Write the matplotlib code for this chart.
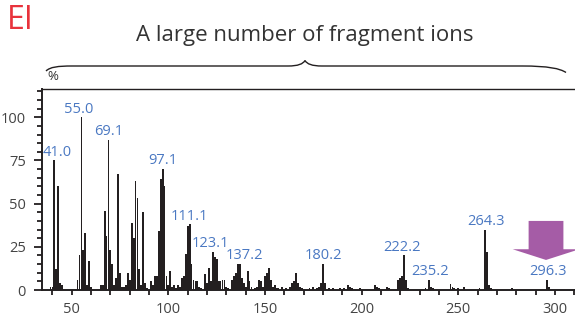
import matplotlib
matplotlib.use("Agg")
import matplotlib.pyplot as plt
from matplotlib.path import Path
from matplotlib.patches import PathPatch, FancyArrow
from matplotlib.ticker import MultipleLocator

# EI mass spectrum (m/z, relative intensity %)
mz = [39, 40, 41, 42, 43, 44, 45, 53, 54, 55, 56, 57, 58, 59, 60,
      65, 66, 67, 68, 69, 70, 71, 72, 73, 74, 75, 76, 77, 78, 79, 80,
      81, 82, 83, 84, 85, 86, 87, 88, 89, 91, 92, 93, 94, 95, 96, 97,
      98, 99, 100, 101, 102, 103, 104, 105, 106, 107, 108, 109, 110, 111,
      112, 113, 114, 115, 116, 117, 119, 120, 121, 122, 123, 124, 125, 126,
      127, 128, 129, 130, 131, 133, 134, 135, 136, 137, 138, 139, 140, 141,
      142, 143, 145, 146, 147, 148, 149, 150, 151, 152, 153, 154, 155, 156,
      157, 159, 161, 163, 164, 165, 166, 167, 168, 169, 173, 175, 177, 178,
      179, 180, 181, 183, 185, 189, 191, 193, 194, 195, 199, 207, 208, 209,
      213, 214, 219, 220, 221, 222, 223, 224, 233, 235, 236, 237, 246, 247,
      248, 250, 253, 261, 264, 265, 266, 267, 278, 296, 297]
intensity = [2, 1.5, 75, 12, 60, 4, 3, 6, 20, 100, 23, 33, 3, 17, 2,
             3, 3, 46, 31, 87, 23, 15, 3, 7, 67, 10, 2, 2, 3, 10, 6,
             39, 30, 63, 53, 12, 3, 45, 4, 1, 5, 3, 8, 8, 34, 64, 70,
             60, 8, 3, 11, 2, 3, 1, 3, 2, 7, 8, 21, 37, 38,
             15, 6, 5, 5, 2, 1, 9, 4, 13, 5, 22, 19, 18, 5,
             5, 6, 6, 2, 1, 6, 8, 10, 15, 15, 7, 4, 2, 11,
             5, 2, 1, 2, 6, 5, 2, 8, 10, 13, 6, 2, 3, 1,
             1, 2, 1, 2, 4, 5, 10, 4, 2, 1, 1, 1.5, 1, 2,
             4, 15, 4, 1, 1, 1, 1, 3, 2, 1, 1, 3, 2, 1,
             1.5, 1, 6, 7, 8, 20, 6, 1, 1, 6, 2, 1, 3.5, 2,
             1, 1, 2, 1, 35, 22, 3, 1, 1, 6, 2]

peak_labels = ["41.0", "55.0", "69.1", "97.1", "111.1", "123.1", "137.2",
               "180.2", "222.2", "235.2", "264.3", "296.3"]
label_dx = [2, -2, 0, 0, 0, -2, 3, 0, -2, 0, 0, 0]

fig = plt.figure(figsize=(5.75, 3.15), dpi=100)
plt.rcParams['font.family'] = ['Open Sans', 'DejaVu Sans']
ax = fig.add_axes([42 / 575, 25 / 315, 533 / 575, 201 / 315])

ax.bar(mz, intensity, width=0.95, color='#231f20', linewidth=0)

ax.set_xlim(34.6, 310.4)
ax.set_ylim(0, 116.4)
ax.xaxis.set_major_locator(MultipleLocator(50))
ax.xaxis.set_minor_locator(MultipleLocator(10))
ax.yaxis.set_major_locator(MultipleLocator(25))
ax.yaxis.set_minor_locator(MultipleLocator(5))
ax.tick_params(axis='both', which='both', direction='out', width=1.3,
               color='#231f20', labelsize=10.5, labelcolor='#444444')
ax.tick_params(axis='x', which='both', length=3.8, pad=4.5)
ax.tick_params(axis='y', which='major', length=6, pad=5.5)
ax.tick_params(axis='y', which='minor', length=3.6)
ax.spines['right'].set_visible(False)
for s in ['left', 'bottom']:
    ax.spines[s].set_linewidth(1.4)
    ax.spines[s].set_color('#231f20')
ax.spines['top'].set_linewidth(1.0)
ax.spines['top'].set_color('#231f20')

# peak annotations
for lab, dx in zip(peak_labels, label_dx):
    m = round(float(lab))
    h = max(i for x, i in zip(mz, intensity) if abs(x - m) <= 1 and (x == m or lab == "111.1"))
    ax.annotate(lab, (float(lab), h), xytext=(dx, 0.5), textcoords='offset points',
                ha='center', va='bottom', fontsize=10.5, color='#4a78c2')

# molecular ion arrow
arr = FancyArrow(295.4, 40, 0, -22.6, width=18, head_width=34.5, head_length=6.2,
                 length_includes_head=True, color='#a55ca6', linewidth=0,
                 clip_on=False)
ax.add_patch(arr)

fig.text(0.012, 0.935, "EI", fontsize=23, color='#e8333c', ha='left', va='center')
fig.text(305 / 575, 1 - 35 / 315, "A large number of fragment ions", fontsize=16,
         color='#333333', ha='center', va='center')
fig.text(47 / 575, 1 - 76 / 315, "%", fontsize=9.5, color='#333333',
         ha='left', va='center')

# brace over the spectrum
def P(x, y):
    return (x / 575, 1 - y / 315)

verts = [P(46, 71), P(50, 67), P(58, 66), P(72, 66),
         P(288, 66),
         P(298, 66), P(303, 64), P(305, 60.5),
         P(307, 64), P(312, 66), P(322, 66),
         P(522, 66),
         P(548, 66), P(560, 68.5), P(566, 72.5)]
codes = [Path.MOVETO, Path.CURVE4, Path.CURVE4, Path.CURVE4,
         Path.LINETO,
         Path.CURVE4, Path.CURVE4, Path.CURVE4,
         Path.CURVE4, Path.CURVE4, Path.CURVE4,
         Path.LINETO,
         Path.CURVE4, Path.CURVE4, Path.CURVE4]
brace = PathPatch(Path(verts, codes), transform=fig.transFigure, fill=False,
                  edgecolor='#231f20', linewidth=1.0)
fig.patches.append(brace)

fig.savefig("out.png", dpi=100)
